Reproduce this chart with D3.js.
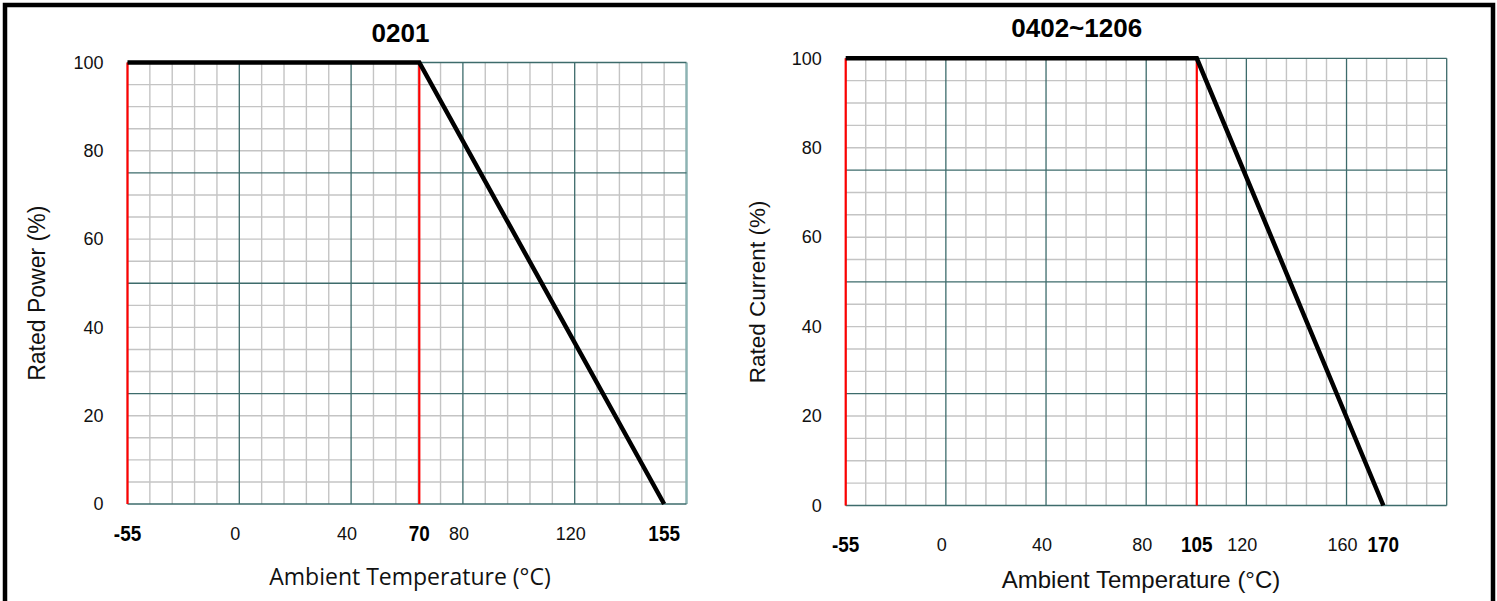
<!DOCTYPE html>
<html lang="en">
<head>
  <meta charset="UTF-8">
  <title>Derating curves 0201 / 0402~1206</title>
  <script src="https://d3js.org/d3.v7.min.js"></script>
  <style>
    body { margin: 0; background: #fff; }
    svg { display: block; }
    .minor { stroke: #c4c4c4; stroke-width: 1.4; }
    .major { stroke: #3d6b6b; stroke-width: 1.3; }
    .limit { stroke: #ff0000; stroke-width: 2.2; }
    .curve { fill: none; stroke: #000; stroke-width: 4.5; }
    .tick { font-family: "Liberation Sans", Arial, sans-serif; font-size: 18px; fill: #111; }
    .tick-bold { font-family: "Liberation Sans", Arial, sans-serif;
                 font-weight: bold; font-size: 22px; fill: #000; }
    .title { font-family: "Liberation Sans", Arial, sans-serif; font-size: 26px; font-weight: bold; fill: #000; }
    .ytitle { font-family: "Liberation Sans", Arial, sans-serif; font-size: 23px; fill: #111; }
  </style>
</head>
<body>
  <svg width="1497" height="601"></svg>

  <script>
    // values common to both charts
    const yTicks = [0, 20, 40, 60, 80, 100];

    // 0201: power derating
    const leftTemps = [-55, 70, 155];
    const leftPower = [100, 100, 0];
    // where these temperatures sit on the printed grid axis
    const leftTempsOnGrid = [-40, 64.4, 152];
    const leftGridDomain = [-40, 160];
    const leftGridTicks = [0, 40, 80, 120];

    // 0402~1206: current derating
    const rightTemps = [-55, 105, 170];
    const rightCurrent = [100, 100, 0];
    const rightTempsOnGrid = [-40, 100.2, 174.7];
    const rightGridDomain = [-40, 200];
    const rightGridTicks = [0, 40, 80, 120, 160];

    const svg = d3.select("svg");

    // outer frame
    svg.append("rect")
      .attr("x", 5).attr("y", 5)
      .attr("width", 1488).attr("height", 700)
      .attr("fill", "none")
      .attr("stroke", "#000")
      .attr("stroke-width", 4.5);

    function drawChart(o) {
      const g = svg.append("g");
      const x = d3.scaleLinear().domain(o.gridDomain).range([o.left, o.right]);
      const y = d3.scaleLinear().domain([0, 100]).range([o.bottom, o.top]);
      // piecewise map from real temperature to position on the drawn grid
      const t = d3.scaleLinear().domain(o.temps).range(o.tempsOnGrid.map(x));

      const [x0, x1] = o.gridDomain;
      const xMinor = d3.range(x0, x1 + 0.01, 8).filter(v => (v - x0) % 40 !== 0);
      const xMajor = d3.range(x0, x1 + 0.01, 40);
      const yMinor = d3.range(0, 100.01, 5).filter(v => v % 25 !== 0);
      const yMajor = d3.range(0, 100.01, 25);

      // light grid
      g.selectAll(".vminor").data(xMinor).enter().append("line")
        .attr("class", "minor")
        .attr("x1", d => x(d)).attr("x2", d => x(d))
        .attr("y1", o.top).attr("y2", o.bottom);
      g.selectAll(".hminor").data(yMinor).enter().append("line")
        .attr("class", "minor")
        .attr("x1", o.left).attr("x2", o.right)
        .attr("y1", d => y(d)).attr("y2", d => y(d));

      // dark grid
      g.selectAll(".vmajor").data(xMajor).enter().append("line")
        .attr("class", "major")
        .attr("x1", d => x(d)).attr("x2", d => x(d))
        .attr("y1", o.top).attr("y2", o.bottom)
        .style("stroke", d => d === x1 ? o.edge : null)
        .style("stroke-width", d => d === x1 ? o.edgeWidth : null);
      g.selectAll(".hmajor").data(yMajor).enter().append("line")
        .attr("class", "major")
        .attr("x1", o.left).attr("x2", o.right)
        .attr("y1", d => y(d)).attr("y2", d => y(d));

      // red limits: lowest temperature and knee
      g.selectAll(".limit").data(o.temps.slice(0, 2)).enter().append("line")
        .attr("class", "limit")
        .attr("x1", d => t(d)).attr("x2", d => t(d))
        .attr("y1", y(0)).attr("y2", y(100));

      const pts = o.temps.map((d, i) => [d, o.values[i]]);
      g.append("path")
        .attr("class", "curve")
        .attr("d", d3.line().x(d => t(d[0])).y(d => y(d[1]))(pts));

      // y tick labels
      g.selectAll(".ylab").data(yTicks).enter().append("text")
        .attr("class", "tick")
        .attr("x", o.left - 24)
        .attr("y", d => y(d))
        .attr("dy", "0.35em")
        .attr("text-anchor", "end")
        .text(d => d);

      // grid tick labels
      g.selectAll(".xlab").data(o.gridTicks).enter().append("text")
        .attr("class", "tick")
        .attr("x", d => x(d) - 4)
        .attr("y", o.labelY)
        .attr("dy", "0.35em")
        .attr("text-anchor", "middle")
        .text(d => d);

      // bold temperature labels, squeezed like a narrow face
      g.selectAll(".tlab").data(o.temps).enter().append("text")
        .attr("class", "tick-bold")
        .attr("transform", d => `translate(${t(d)},${o.labelY - 1}) scale(0.86,1)`)
        .attr("dy", "0.35em")
        .attr("text-anchor", "middle")
        .text(d => d);

      g.append("text")
        .attr("class", "title")
        .attr("x", o.titleX).attr("y", o.top - 30)
        .attr("dy", "0.35em")
        .attr("text-anchor", "middle")
        .text(o.title);

      g.append("text")
        .attr("x", o.xTitleX).attr("y", o.xTitleY)
        .attr("dy", "0.35em")
        .attr("text-anchor", "middle")
        .style("font-family", o.xTitleFont)
        .style("font-size", o.xTitleSize)
        .style("fill", "#111")
        .text("Ambient Temperature (°C)");

      g.append("text")
        .attr("class", "ytitle")
        .attr("transform", `translate(${o.yTitleX},${(o.top + o.bottom) / 2 + 10}) rotate(-90)`)
        .attr("dy", "0.35em")
        .attr("text-anchor", "middle")
        .style("font-size", o.yTitleSize)
        .text(o.yTitle);
    }

    drawChart({
      title: "0201", yTitle: "Rated Power (%)",
      temps: leftTemps, values: leftPower, tempsOnGrid: leftTempsOnGrid,
      gridDomain: leftGridDomain, gridTicks: leftGridTicks,
      left: 127.5, right: 686.5, top: 62.5, bottom: 504,
      edge: "#8db3b3", edgeWidth: 2.5,
      labelY: 534, titleX: 400.5,
      xTitleX: 410, xTitleY: 577, xTitleFont: "'Open Sans', sans-serif", xTitleSize: "23px",
      yTitleX: 37, yTitleSize: "23px"
    });

    drawChart({
      title: "0402~1206", yTitle: "Rated Current (%)",
      temps: rightTemps, values: rightCurrent, tempsOnGrid: rightTempsOnGrid,
      gridDomain: rightGridDomain, gridTicks: rightGridTicks,
      left: 845.7, right: 1446.7, top: 58.3, bottom: 505.5,
      edge: "#3d6b6b", edgeWidth: 1.3,
      labelY: 545, titleX: 1076.7,
      xTitleX: 1141, xTitleY: 580, xTitleFont: "'Liberation Sans', Arial, sans-serif", xTitleSize: "24px",
      yTitleX: 757, yTitleSize: "22.5px"
    });
  </script>
</body>
</html>
